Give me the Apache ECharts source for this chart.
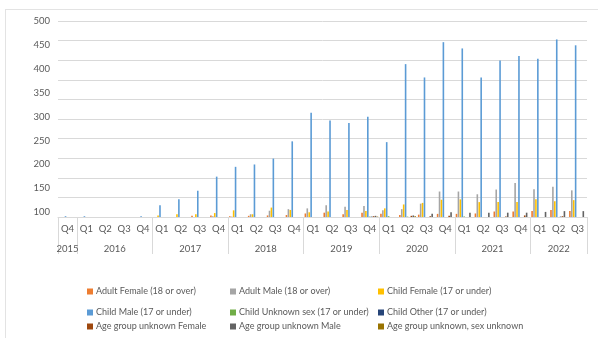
<!DOCTYPE html>
<html>
<head>
<meta charset="utf-8">
<script src="https://cdn.jsdelivr.net/npm/echarts@6/dist/echarts.min.js"></script>
<style>
  html, body { margin: 0; padding: 0; background: #fff; }
  #wrap { position: relative; width: 598px; height: 338px; overflow: hidden; }
  #frame { position: absolute; left: 5px; top: 9px; width: 640px; height: 400px; border: 1px solid #e3e3e3; box-sizing: border-box; }
  #chart { position: absolute; left: 0; top: 0; width: 598px; height: 338px; }
</style>
</head>
<body>
<div id="wrap">
  <div id="frame"></div>
  <div id="chart"></div>
</div>
<script>
// Quarter / year categories
const quarters = ['Q4',
  'Q1','Q2','Q3','Q4',
  'Q1','Q2','Q3','Q4',
  'Q1','Q2','Q3','Q4',
  'Q1','Q2','Q3','Q4',
  'Q1','Q2','Q3','Q4',
  'Q1','Q2','Q3','Q4',
  'Q1','Q2','Q3'];
const years = ['2015','2016','2017','2018','2019','2020','2021','2022'];
// first category index of each year, plus the end
const yearStarts = [0, 1, 5, 9, 13, 17, 21, 25, 28];

// Series values per quarter
const adultFemale      = [0,0,0,0,0, 0,0,3,4, 2,3,4,5, 9,11,7,11, 8,5,6,8, 8,9,14,14, 15,18,15];
const adultMale        = [0,0,0,0,0, 0,0,0,2, 1,7,16,20, 22,30,26,28, 17,20,34,65, 65,58,70,87, 71,77,68];
const childFemale      = [0,0,0,0,0, 4,7,7,10, 17,7,24,18, 12,14,18,15, 22,32,36,44, 45,38,38,38, 45,40,43];
const childMale        = [2,2,0,0,2, 30,45,67,103, 128,134,149,193, 266,246,240,256, 191,390,356,446, 430,356,399,411, 404,453,438];
const childUnknownSex  = [0,0,0,0,0, 0,0,0,0, 0,0,0,0, 0,0,0,1, 2,1,0,0, 1,0,0,0, 0,0,0];
const childOther       = [0,0,0,0,0, 0,0,0,0, 0,0,0,0, 0,0,0,1, 0,0,0,0, 0,0,0,0, 0,1,0];
const unknownFemale    = [0,0,0,0,0, 0,0,0,0, 0,0,0,0, 0,0,0,2, 0,3,2,3, 0,0,1,4, 0,2,0];
const unknownMale      = [0,0,0,0,0, 0,0,0,0, 0,0,0,0, 0,0,0,3, 0,4,8,12, 11,11,11,11, 13,15,15];
const unknownSexAge    = [0,0,0,0,0, 0,0,0,0, 0,0,0,0, 0,0,0,1, 0,2,0,0, 0,0,0,0, 0,0,0];

const seriesNames = [
  'Adult Female (18 or over)', 'Adult Male (18 or over)', 'Child Female (17 or under)',
  'Child Male (17 or under)', 'Child Unknown sex (17 or under)', 'Child Other (17 or under)',
  'Age group unknown Female', 'Age group unknown Male', 'Age group unknown, sex unknown'
];
const seriesData = [adultFemale, adultMale, childFemale, childMale, childUnknownSex,
  childOther, unknownFemale, unknownMale, unknownSexAge];
const colors = ['#ED7D31', '#A5A5A5', '#FFC000', '#5B9BD5', '#70AD47', '#264478', '#9E480E', '#636363', '#997300'];

// y-axis tick labels
const yTickLabels = [100, 150, 200, 250, 300, 350, 400, 450, 500];

const FONT = 'Lato';
const TXT = '#595959';
const LINE = '#d9d9d9';

// year label positions: middle of each year's run of quarters
const yearCenters = years.map((y, i) => (yearStarts[i] + yearStarts[i + 1]) / 2);

const legendLeft = [87, 230, 378];
const legendTop = [287, 308, 322];

const chart = echarts.init(document.getElementById('chart'), null, { renderer: 'canvas' });

chart.setOption({
  animation: false,
  color: colors,
  textStyle: { fontFamily: FONT },
  grid: { left: 58, right: 11, top: 21, bottom: 121, containLabel: false },
  legend: seriesNames.map((n, i) => ({
    data: [n],
    left: legendLeft[i % 3],
    top: legendTop[Math.floor(i / 3)],
    padding: 0,
    icon: 'rect',
    itemWidth: 6,
    itemHeight: 6,
    selectedMode: false,
    textStyle: { fontFamily: FONT, fontSize: 9, color: TXT, padding: [0, 0, 0, -2] }
  })),
  xAxis: [
    {
      type: 'category',
      data: quarters,
      position: 'bottom',
      boundaryGap: true,
      axisLine: { show: true, lineStyle: { color: LINE, width: 1 } },
      axisTick: { show: false },
      axisLabel: { interval: 0, margin: 7, fontFamily: FONT, fontSize: 9.5, color: TXT },
      splitLine: { show: false }
    },
    {
      type: 'value',
      position: 'bottom',
      min: 0,
      max: quarters.length,
      axisLine: { show: false },
      axisTick: {
        show: true, length: 37, inside: false,
        customValues: yearStarts,
        lineStyle: { color: LINE, width: 1 }
      },
      axisLabel: {
        margin: 27, fontFamily: FONT, fontSize: 9.5, color: TXT,
        customValues: yearCenters,
        formatter: v => {
          const k = yearCenters.indexOf(v);
          return k >= 0 ? years[k] : '';
        }
      },
      splitLine: { show: false }
    }
  ],
  yAxis: [
    {
      type: 'value',
      min: 0, max: 500, interval: 50,
      axisLine: { show: false },
      axisTick: { show: false },
      axisLabel: { show: false },
      splitLine: { show: true, lineStyle: { color: LINE, width: 1 } }
    },
    {
      type: 'value',
      position: 'left',
      min: 90, max: 500, interval: 10,
      axisLine: { show: false },
      axisTick: { show: false },
      splitLine: { show: false },
      axisLabel: {
        margin: 8, fontFamily: FONT, fontSize: 9.5, color: TXT,
        formatter: v => (yTickLabels.indexOf(v) >= 0 ? String(v) : '')
      }
    }
  ],
  series: seriesNames.map((n, i) => ({
    name: n,
    type: 'bar',
    xAxisIndex: 0,
    yAxisIndex: 0,
    data: seriesData[i],
    barWidth: 1.6,
    barGap: '20%',
    itemStyle: { color: colors[i] }
  }))
});
</script>
</body>
</html>
